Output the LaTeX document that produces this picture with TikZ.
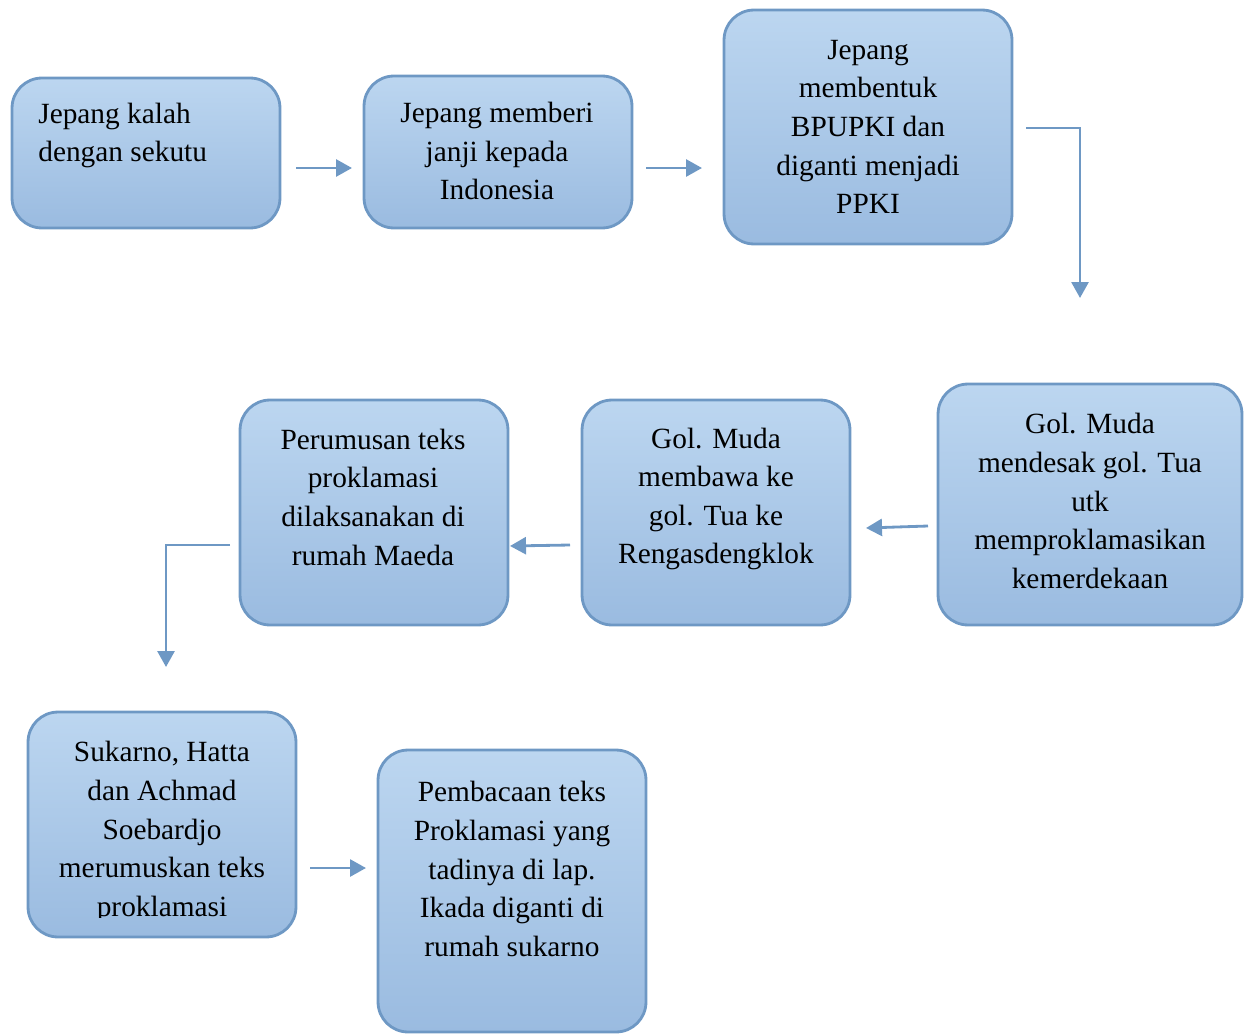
\documentclass[tikz,border=0pt]{standalone}
\usepackage{fontspec}
\setmainfont{Liberation Serif}
\usetikzlibrary{arrows.meta}
\definecolor{boxtop}{HTML}{BCD6F0}
\definecolor{boxbot}{HTML}{9ABBE0}
\definecolor{boxline}{HTML}{6E98C4}
\tikzset{
  box/.style={shape=rectangle, rounded corners=0.6cm, draw=boxline, line width=1.6pt, top color=boxtop, bottom color=boxbot, inner sep=0pt},
  txt/.style={align=center, font=\fontsize{16.7}{22}\selectfont, inner sep=0pt},
  flow/.style={-{Triangle[length=0.32cm,width=0.34cm]}, line width=1.6pt, draw=boxline},
}
\begin{document}
\begin{tikzpicture}[x=0.02cm, y=-0.02cm]
\useasboundingbox (0,0) rectangle (1250,1034);
\node[box, minimum width=5.36cm, minimum height=3.0cm] (kalah) at (146,153) {};
\node[box, minimum width=5.36cm, minimum height=3.04cm] (janji) at (498,152) {};
\node[box, minimum width=5.76cm, minimum height=4.68cm] (bpupki) at (868,127) {};
\node[box, minimum width=6.08cm, minimum height=4.82cm] (desak) at (1090,504.5) {};
\node[box, minimum width=5.36cm, minimum height=4.5cm] (bawa) at (716,512.5) {};
\node[box, minimum width=5.36cm, minimum height=4.5cm] (maeda) at (374,512.5) {};
\node[box, minimum width=5.36cm, minimum height=4.5cm] (rumus) at (162,824.5) {};
\node[box, minimum width=5.36cm, minimum height=5.64cm] (baca) at (512,891) {};
% texts
\node[txt, align=left, anchor=west] (kalahT) at (38,135.5) {Jepang kalah\\dengan sekutu};
\node[txt] (janjiT) at (497,151) {Jepang memberi\\janji kepada\\Indonesia};
\node[txt] (bpupkiT) at (868,127) {Jepang\\membentuk\\BPUPKI dan\\diganti menjadi\\PPKI};
\node[txt] (desakT) at (1090,501) {Gol. Muda\\mendesak gol. Tua\\utk\\memproklamasikan\\kemerdekaan};
\node[txt] (bawaT) at (716,499) {Gol. Muda\\membawa ke\\gol. Tua ke\\Rengasdengklok};
\node[txt] (maedaT) at (373,497) {Perumusan teks\\proklamasi\\dilaksanakan di\\rumah Maeda};
\begin{scope}
\clip (28,712) rectangle (296,917);
\node[txt] (rumusT) at (162,832) {Sukarno, Hatta\\dan Achmad\\Soebardjo\\merumuskan teks\\proklamasi};
\end{scope}
\node[txt] (bacaT) at (512,869) {Pembacaan teks\\Proklamasi yang\\tadinya di lap.\\Ikada diganti di\\rumah sukarno};
% arrow ends
\coordinate (a1s) at (296,168);
\coordinate (a1e) at (352,168);
\coordinate (a2s) at (646,168);
\coordinate (a2e) at (702,168);
\coordinate (a3s) at (1026,128);
\coordinate (a3e) at (1080,298);
\coordinate (a4s) at (928,526);
\coordinate (a4e) at (866,528);
\coordinate (a5s) at (570,545);
\coordinate (a5e) at (510,546);
\coordinate (a6s) at (230,545);
\coordinate (a6e) at (166,667);
\coordinate (a7s) at (310,868);
\coordinate (a7e) at (366,868);
\draw[flow] (a1s) -- (a1e);
\draw[flow] (a2s) -- (a2e);
\draw[flow] (a3s) -| (a3e);
\draw[flow] (a4s) -- (a4e);
\draw[flow] (a5s) -- (a5e);
\draw[flow] (a6s) -| (a6e);
\draw[flow] (a7s) -- (a7e);
\end{tikzpicture}
\end{document}
